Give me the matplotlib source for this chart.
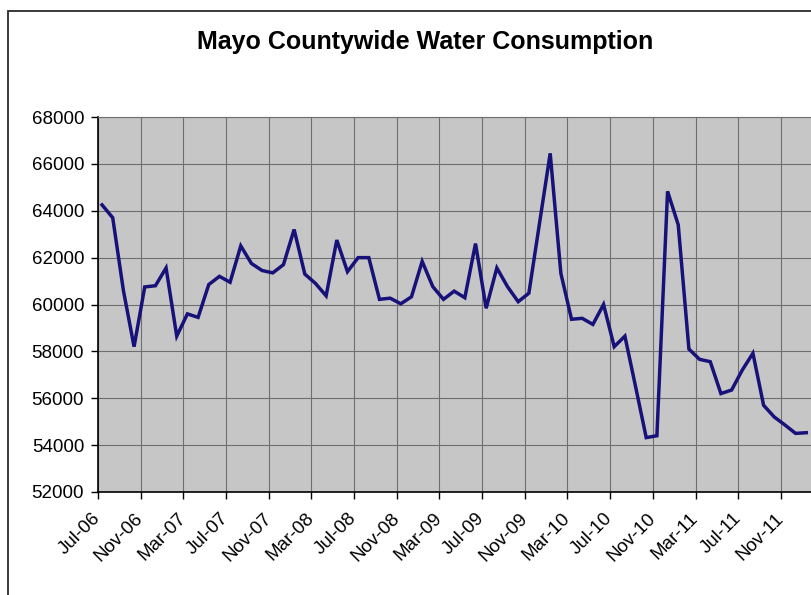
import numpy as np
import matplotlib
matplotlib.use("Agg")
import matplotlib.pyplot as plt
from matplotlib.patches import Rectangle

# Monthly water consumption, Jul-06 .. Jan-12
months = ["Jul-06", "Nov-06", "Mar-07", "Jul-07", "Nov-07", "Mar-08", "Jul-08",
          "Nov-08", "Mar-09", "Jul-09", "Nov-09", "Mar-10", "Jul-10", "Nov-10",
          "Mar-11", "Jul-11", "Nov-11"]
consumption = [
    64250, 63700, 60600, 58200, 60750, 60800, 61560, 58650, 59600, 59450, 60850, 61200,
    60950, 62500, 61750, 61450, 61350, 61700, 63200, 61300, 60900, 60370, 62750, 61400,
    62000, 62000, 60220, 60270, 60030, 60330, 61840, 60760, 60220, 60570, 60290, 62600,
    59840, 61560, 60760, 60120, 60480, 63470, 66450, 61330, 59370, 59410, 59150, 60000,
    58200, 58650, 56500, 54320, 54400, 64830, 63400, 58100, 57660, 57560, 56200, 56350,
    57200, 57920, 55700, 55200, 54860, 54500, 54530,
]
y_ticks = list(range(52000, 68001, 2000))


def main():
    W, H = 812, 595
    fig = plt.figure(figsize=(W / 100, H / 100), dpi=100)
    fig.patch.set_facecolor("white")

    # plot area: left edge at x=98px, runs off the right side of the picture
    left, right = 98, 830
    bottom, top = 492, 117
    ax = fig.add_axes([left / W, (H - bottom) / H, (right - left) / W, (bottom - top) / H])
    ax.set_facecolor("#c6c6c6")

    x = np.arange(len(consumption))
    ax.plot(x, consumption, color="#17127a", lw=2.5, solid_joinstyle="miter", zorder=3)

    px_per_month = 10.67
    tick_pos = np.arange(len(months)) * 4 - 0.38
    ax.set_xlim(-0.38, -0.38 + (right - left) / px_per_month)
    ax.set_ylim(52000, 68000)
    ax.set_yticks(y_ticks)
    ax.set_yticklabels([str(v) for v in y_ticks], fontsize=13.5, family="Liberation Sans")
    ax.set_xticks(tick_pos)
    ax.set_xticklabels(months, fontsize=13.5, family="Liberation Sans", rotation=45,
                       ha="right", va="center", rotation_mode="anchor")
    ax.tick_params(axis="x", length=5, width=1, pad=12)
    ax.tick_params(axis="y", length=5, width=1, pad=5)

    ax.grid(True, color="#6e6e6e", lw=0.8)
    ax.set_axisbelow(True)
    for s in ("left", "bottom"):
        ax.spines[s].set_color("black")
        ax.spines[s].set_linewidth(1.2)
    ax.spines["top"].set_color("#6e6e6e")
    ax.spines["right"].set_visible(False)

    fig.text(0.523, 1 - 42 / H, "Mayo Countywide Water Consumption",
             ha="center", va="center", fontsize=18, fontweight="bold",
             family="Liberation Sans")

    # chart outer border (cut off at right and bottom)
    fig.patches.append(Rectangle((8 / W, -0.1), 1.5, 1 - 11 / H + 0.1,
                                 transform=fig.transFigure, fill=False,
                                 edgecolor="#2a2a2a", lw=1.3))

    fig.savefig("out.png", dpi=100)


if __name__ == "__main__":
    main()
